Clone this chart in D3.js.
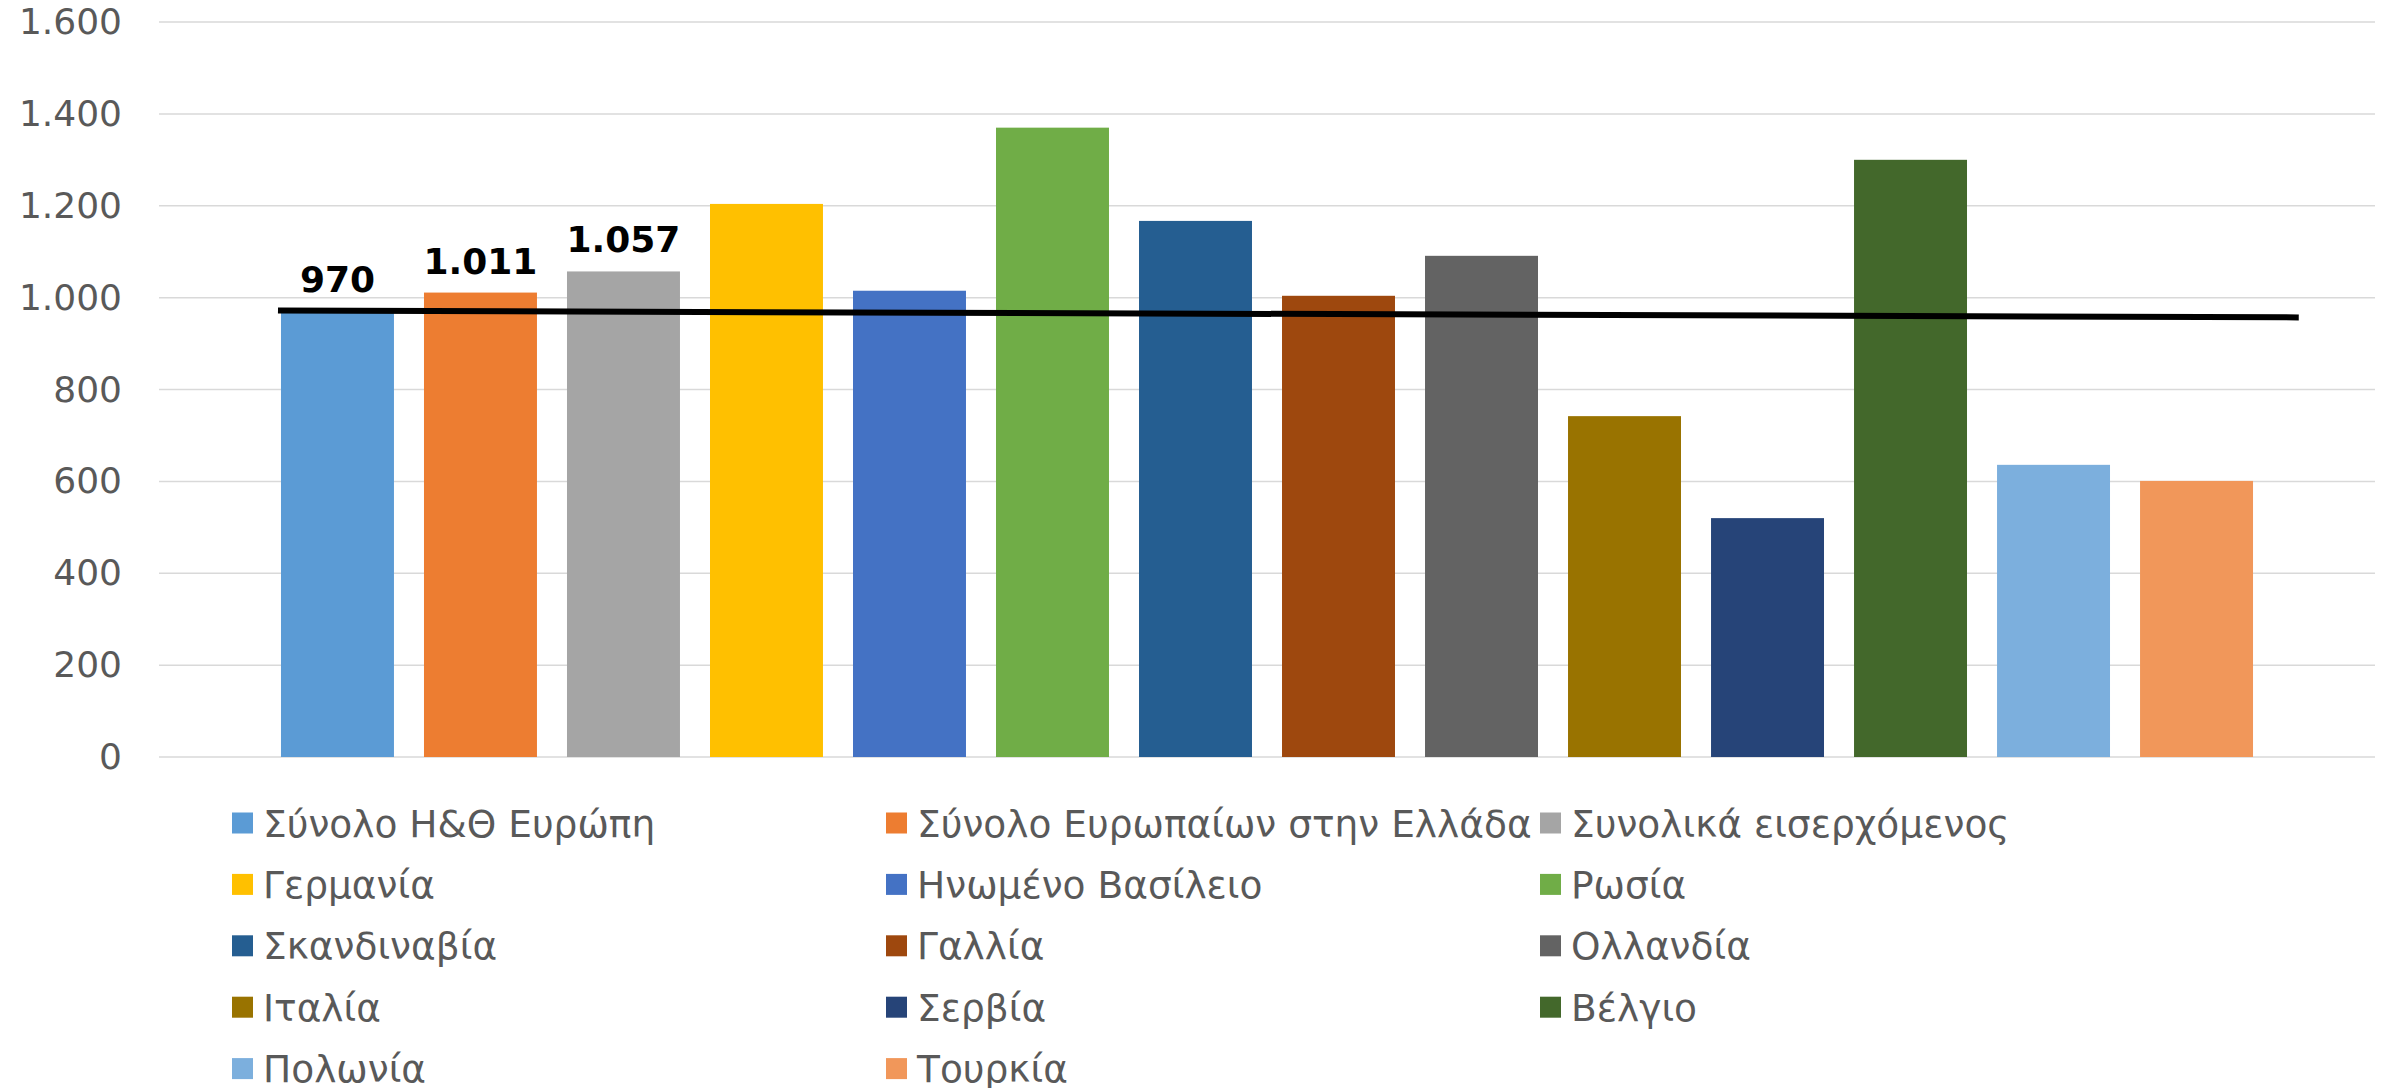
<!DOCTYPE html>
<html>
<head>
<meta charset="utf-8">
<script src="https://cdn.jsdelivr.net/npm/d3@7"></script>
<style>
  body { margin: 0; background: #fff; }
  svg text { font-family: "DejaVu Sans", Verdana, sans-serif; }
</style>
</head>
<body>
<div id="chart"></div>
<script>
// series (one bar each) and their values
var names = ["Σύνολο Η&Θ Ευρώπη", "Σύνολο Ευρωπαίων στην Ελλάδα", "Συνολικά εισερχόμενος",
    "Γερμανία", "Ηνωμένο Βασίλειο", "Ρωσία", "Σκανδιναβία", "Γαλλία", "Ολλανδία",
    "Ιταλία", "Σερβία", "Βέλγιο", "Πολωνία", "Τουρκία"];
var values = [970, 1011, 1057, 1204, 1015, 1370, 1167, 1004, 1091, 742, 520, 1300, 636, 601];
var colors = ["#5B9BD5", "#ED7D31", "#A5A5A5", "#FFC000", "#4472C4", "#70AD47", "#255E91",
    "#9E480E", "#636363", "#997300", "#264478", "#43682B", "#7CAFDD", "#F1975A"];
var yTicks = [0, 200, 400, 600, 800, 1000, 1200, 1400, 1600];
// black trend line, start and end value
var trend = [972, 957];
// only the first three bars carry a data label
var labelled = 3;

var W = 2386, H = 1088;
var margin = {top: 22, right: 11, bottom: 331, left: 159},
    width = W - margin.left - margin.right,
    height = H - margin.top - margin.bottom;

var svg = d3.select("#chart").append("svg")
    .attr("width", W)
    .attr("height", H);

var g = svg.append("g")
    .attr("transform", "translate(" + margin.left + "," + margin.top + ")");

var locale = d3.formatLocale({decimal: ",", thousands: ".", grouping: [3], currency: ["", "€"]});
var fmt = locale.format(",d");

var x = d3.scaleBand()
    .domain(names)
    .range([0, width])
    .paddingInner(0.21)
    .paddingOuter(0.853);

var y = d3.scaleLinear()
    .domain([0, 1600])
    .range([height, 0]);

// gridlines
g.selectAll(".grid")
    .data(yTicks)
    .join("line")
    .attr("class", "grid")
    .attr("x1", 0)
    .attr("x2", width)
    .attr("y1", d => y(d))
    .attr("y2", d => y(d))
    .attr("stroke", "#D9D9D9")
    .attr("stroke-width", 1.5);

// y axis labels
var yAxis = g.append("g")
    .call(d3.axisLeft(y).tickValues(yTicks).tickFormat(fmt).tickSize(0).tickPadding(37));
yAxis.select(".domain").remove();
yAxis.selectAll("text")
    .style("font-family", "'DejaVu Sans', Verdana, sans-serif")
    .style("font-size", "36px")
    .attr("fill", "#595959");

// bars
g.selectAll(".bar")
    .data(names)
    .join("rect")
    .attr("class", "bar")
    .attr("x", d => x(d))
    .attr("width", x.bandwidth())
    .attr("y", (d, i) => y(values[i]))
    .attr("height", (d, i) => height - y(values[i]))
    .attr("fill", (d, i) => colors[i]);

// trend line
var tx0 = x(names[0]) - 3,
    tx1 = x(names[names.length - 1]) + x.bandwidth() + x.step() * 0.32;
g.append("line")
    .attr("x1", tx0)
    .attr("x2", tx1)
    .attr("y1", y(trend[0]))
    .attr("y2", y(trend[1]))
    .attr("stroke", "#000")
    .attr("stroke-width", 6);

// data labels
g.selectAll(".lbl")
    .data(names.slice(0, labelled))
    .join("text")
    .attr("class", "lbl")
    .attr("x", d => x(d) + x.bandwidth() / 2)
    .attr("y", (d, i) => y(values[i]) - 19)
    .attr("text-anchor", "middle")
    .style("font-size", "36px")
    .style("font-weight", "bold")
    .attr("fill", "#000")
    .text((d, i) => fmt(values[i]));

// legend, three columns
var legend = svg.append("g")
    .attr("transform", "translate(232,823)");

var item = legend.selectAll(".item")
    .data(names)
    .join("g")
    .attr("class", "item")
    .attr("transform", (d, i) => "translate(" + (i % 3) * 654 + "," + Math.floor(i / 3) * 61.4 + ")");

item.append("rect")
    .attr("x", 0)
    .attr("y", -10.5)
    .attr("width", 21)
    .attr("height", 21)
    .attr("fill", (d, i) => colors[i]);

item.append("text")
    .attr("x", 31)
    .attr("dy", "0.36em")
    .style("font-size", "37.5px")
    .attr("fill", "#595959")
    .text(d => d);
</script>
</body>
</html>
